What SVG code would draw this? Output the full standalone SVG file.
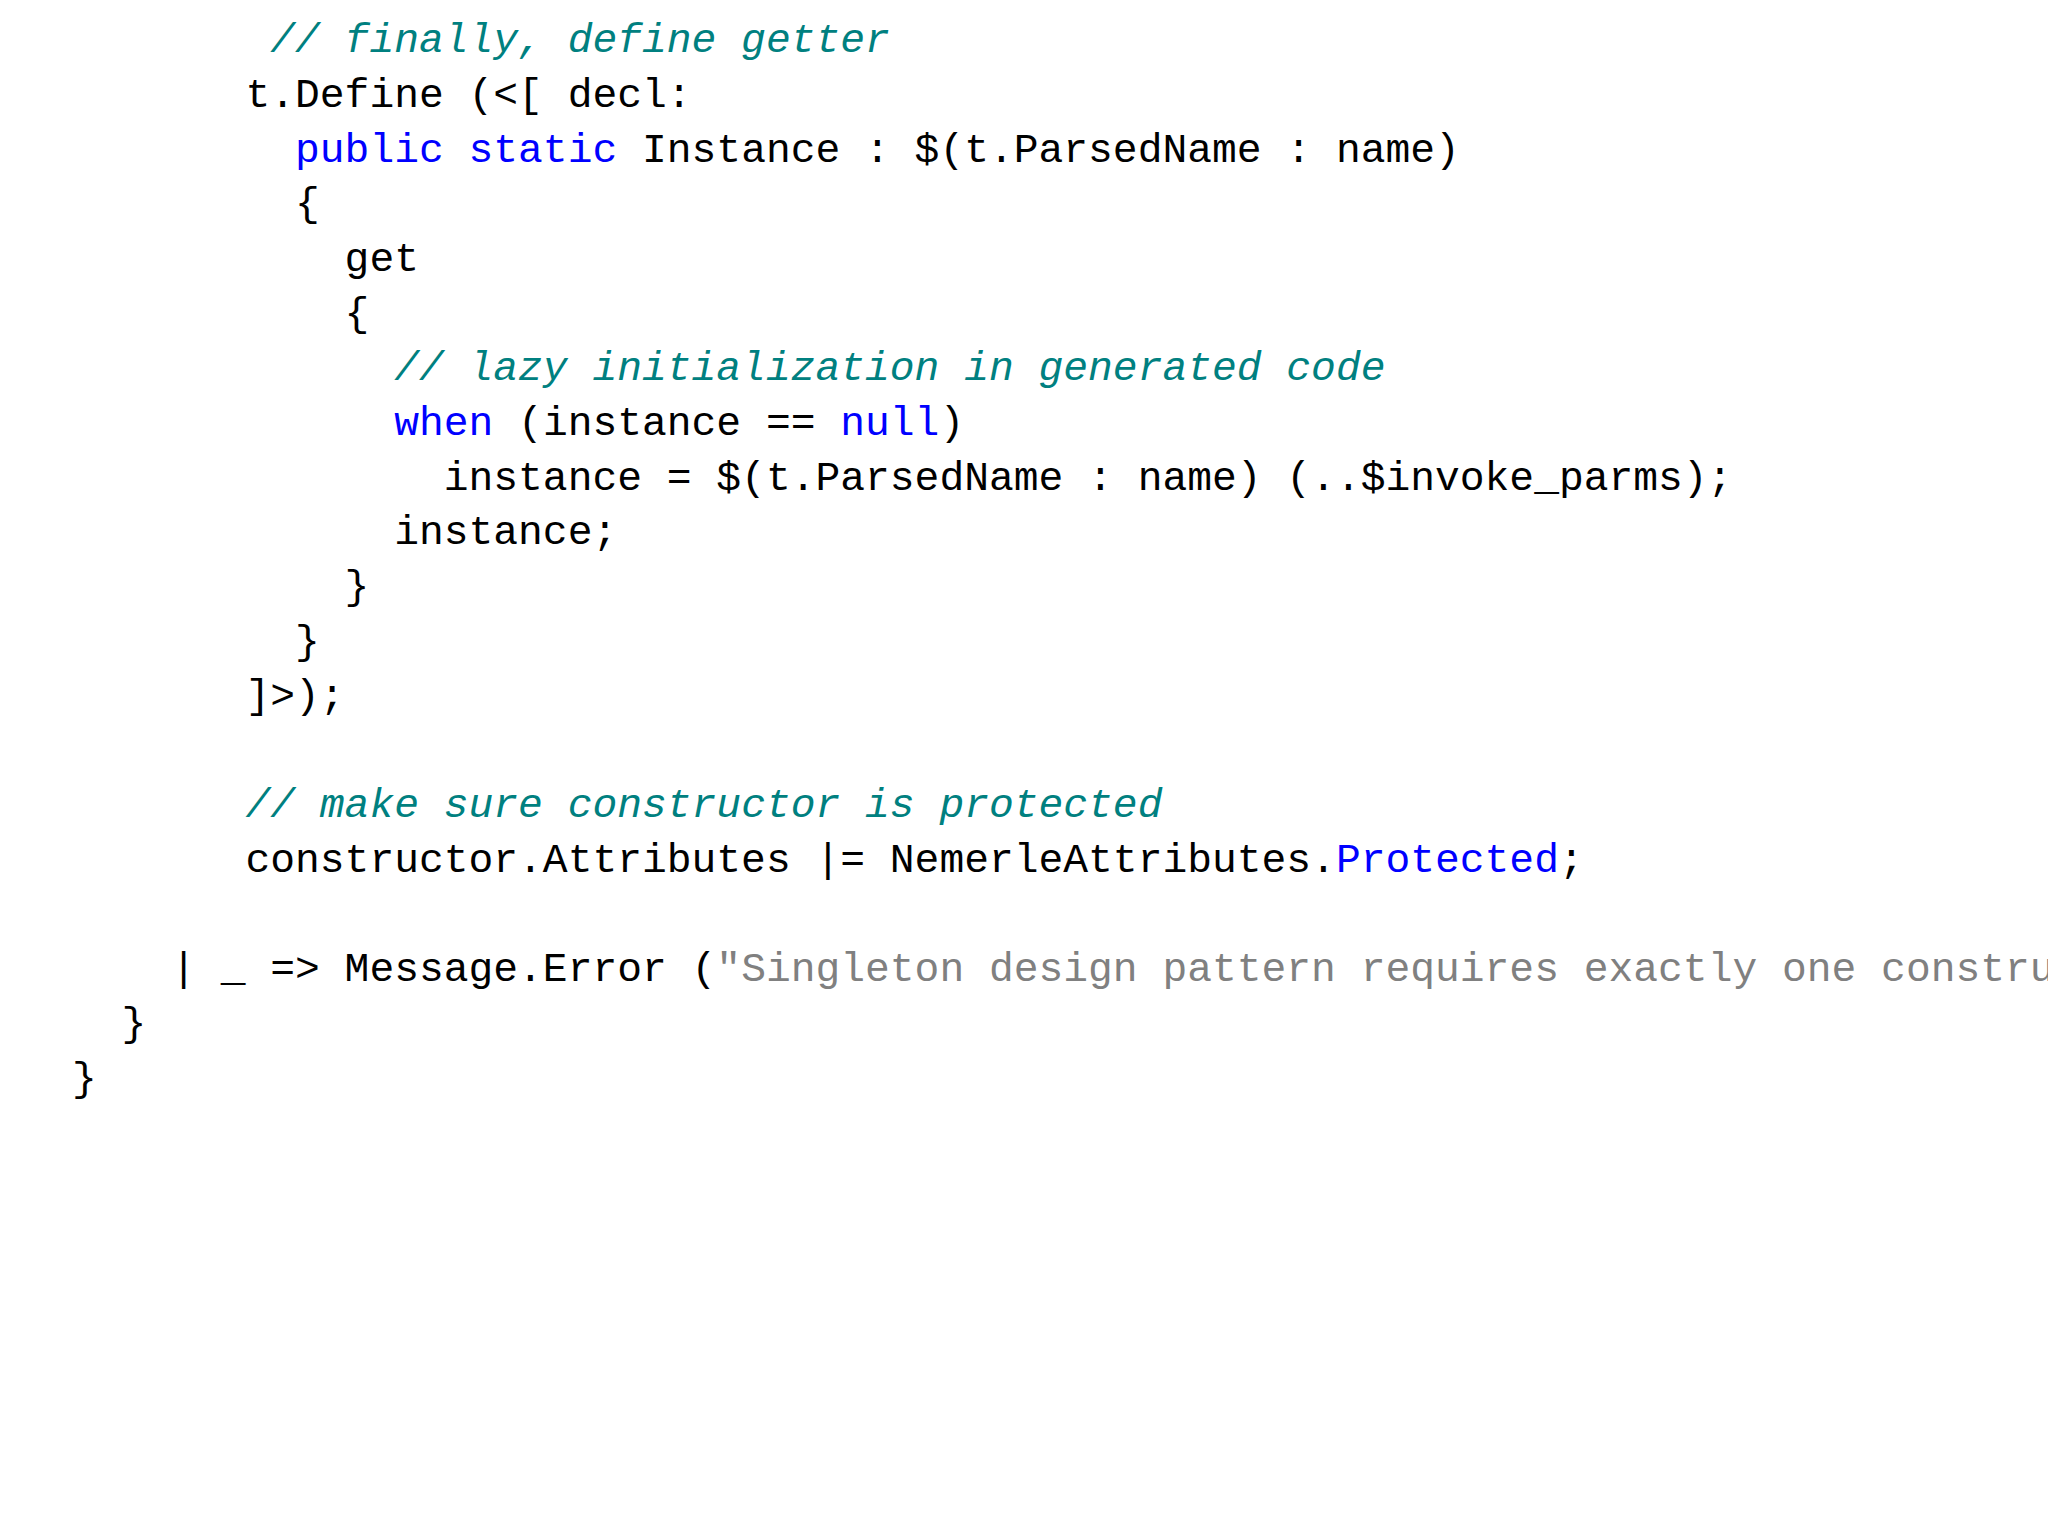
<svg xmlns="http://www.w3.org/2000/svg" width="2048" height="1536" viewBox="0 0 2048 1536">
<style>
text{font-family:"Liberation Mono","DejaVu Sans Mono",monospace;font-size:41.3px;fill:#000;white-space:pre}
.c{fill:#008080;font-style:italic}
.k{fill:#0000ff}
.s{fill:#808080}
</style>
<rect width="2048" height="1536" fill="#fff"/>
<g xml:space="preserve">
<text x="72" y="52"><tspan class="c">        // finally, define getter</tspan></text>
<text x="72" y="107">       t.Define (&lt;[ decl:</text>
<text x="72" y="162">         <tspan class="k">public static</tspan> Instance : $(t.ParsedName : name)</text>
<text x="72" y="216">         {</text>
<text x="72" y="271">           get</text>
<text x="72" y="326">           {</text>
<text x="72" y="380">             <tspan class="c">// lazy initialization in generated code</tspan></text>
<text x="72" y="435">             <tspan class="k">when</tspan> (instance == <tspan class="k">null</tspan>)</text>
<text x="72" y="490">               instance = $(t.ParsedName : name) (..$invoke_parms);</text>
<text x="72" y="544">             instance;</text>
<text x="72" y="599">           }</text>
<text x="72" y="654">         }</text>
<text x="72" y="708">       ]&gt;);</text>
<text x="72" y="817">       <tspan class="c">// make sure constructor is protected</tspan></text>
<text x="72" y="872">       constructor.Attributes |= NemerleAttributes.<tspan class="k">Protected</tspan>;</text>
<text x="72" y="981">    | _ =&gt; Message.Error (<tspan class="s">"Singleton design pattern requires exactly one constructor</tspan></text>
<text x="72" y="1036">  }</text>
<text x="72" y="1091">}</text>
</g>
</svg>
